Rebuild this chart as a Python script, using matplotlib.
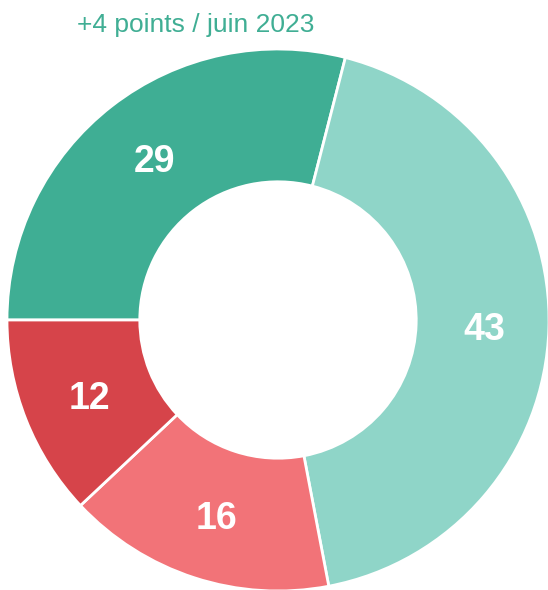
import matplotlib
matplotlib.use("Agg")
import matplotlib.pyplot as plt
from matplotlib.transforms import ScaledTranslation

labels = ["29", "43", "16", "12"]
values = [29, 43, 16, 12]
colors = ["#3FAE94", "#8FD5C8", "#F27378", "#D6444A"]
title = "+4 points / juin 2023"

W, H = 548, 590
fig = plt.figure(figsize=(W / 100, H / 100), dpi=100)
R = 271
cx, cy = 278, 320
ax = fig.add_axes([(cx - R) / W, (H - cy - R) / H, 2 * R / W, 2 * R / H])
ax.set_xlim(-1, 1)
ax.set_ylim(-1, 1)
ax.set_aspect("equal")
ax.axis("off")

wedges, texts = ax.pie(
    values, colors=colors, startangle=180, counterclock=False, radius=1,
    labels=labels, labeldistance=0.755,
    wedgeprops=dict(width=0.49, edgecolor="white", linewidth=2),
    textprops=dict(color="white", fontsize=27, fontweight="bold",
                   family="Liberation Sans"),
)
shift = ScaledTranslation(2 / 100, 0, fig.dpi_scale_trans)
for t in texts:
    t.set_ha("center")
    t.set_va("center_baseline")
    t.set_transform(t.get_transform() + shift)
ax.set_xlim(-1, 1)
ax.set_ylim(-1, 1)

fig.text(196 / W, 1 - 32 / H, title, color="#40AE94", fontsize=19,
         family="Liberation Sans", ha="center", va="baseline")

fig.savefig("out.png", dpi=100)
